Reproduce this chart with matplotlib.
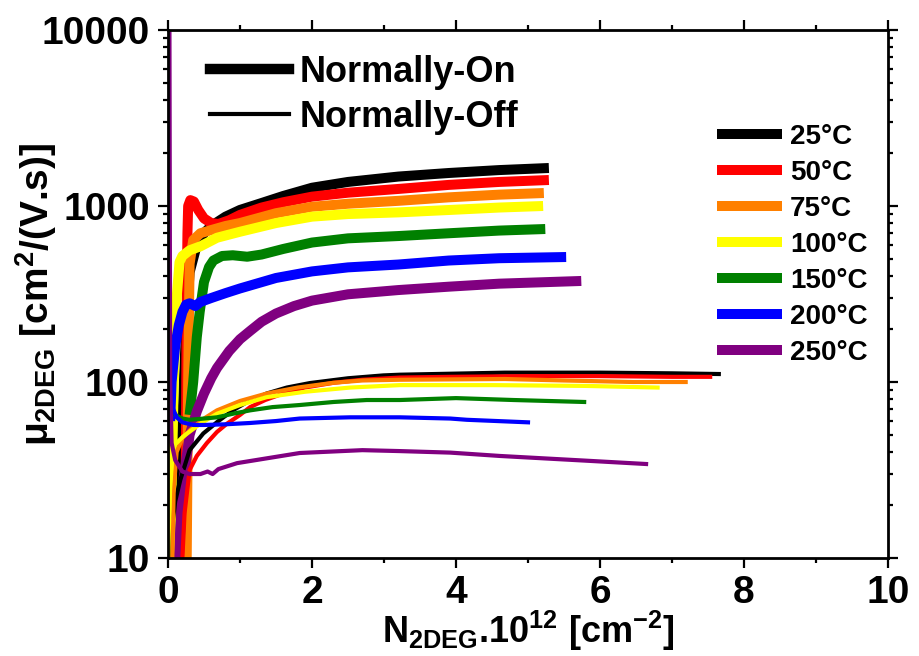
import matplotlib
matplotlib.use("Agg")
import matplotlib.pyplot as plt
from matplotlib.lines import Line2D
from matplotlib.ticker import FixedLocator, LogLocator, NullFormatter

plt.rcParams['font.family'] = ['Liberation Sans', 'DejaVu Sans']
plt.rcParams['font.weight'] = 'bold'
plt.rcParams['mathtext.fontset'] = 'custom'
plt.rcParams['mathtext.rm'] = 'Liberation Sans:bold'
plt.rcParams['mathtext.bf'] = 'Liberation Sans:bold'
plt.rcParams['mathtext.it'] = 'Liberation Sans:bold'
plt.rcParams['mathtext.sf'] = 'Liberation Sans:bold'

# ---------------- data ----------------
temps = ['25°C', '50°C', '75°C', '100°C', '150°C', '200°C', '250°C']
colors = ['#000000', '#ff0000', '#ff8000', '#ffff00', '#008000', '#0000ff', '#800080']

# Normally-On (thick)
on25_x = [0.15, 0.2, 0.25, 0.3, 0.4, 0.5, 0.6, 0.8, 1.0, 1.3, 1.6, 2.0, 2.5, 3.2, 3.9, 4.6, 5.29]
on25_y = [10, 60, 200, 420, 600, 700, 770, 870, 950, 1040, 1140, 1270, 1370, 1470, 1540, 1600, 1644]
on50_x = [0.24, 0.26, 0.27, 0.28, 0.31, 0.36, 0.42, 0.5, 0.6, 0.7, 0.85, 1.0, 1.3, 1.6, 2.0, 2.5, 3.2, 3.9, 4.6, 5.29]
on50_y = [10, 300, 700, 1000, 1080, 1060, 950, 850, 800, 790, 830, 890, 980, 1050, 1130, 1190, 1250, 1318, 1370, 1405]
on75_x = [0.26, 0.28, 0.3, 0.35, 0.45, 0.6, 0.8, 1.0, 1.5, 2.0, 2.5, 3.2, 3.9, 4.6, 5.22]
on75_y = [10, 100, 470, 640, 700, 730, 770, 800, 910, 990, 1030, 1070, 1120, 1160, 1185]
on100_x = [0.03, 0.08, 0.12, 0.16, 0.2, 0.3, 0.45, 0.68, 1.0, 1.5, 2.0, 2.5, 3.2, 3.9, 4.6, 5.21]
on100_y = [10, 100, 300, 480, 520, 560, 590, 660, 714, 800, 870, 900, 920, 949, 980, 1000]
on150_x = [0.3, 0.35, 0.4, 0.44, 0.5, 0.57, 0.63, 0.75, 0.9, 1.1, 1.3, 1.6, 2.0, 2.5, 3.2, 3.9, 4.6, 5.24]
on150_y = [65, 100, 180, 250, 370, 450, 490, 520, 525, 515, 530, 570, 620, 655, 675, 700, 725, 740]
on200_x = [0.03, 0.05, 0.1, 0.15, 0.2, 0.25, 0.3, 0.38, 0.45, 0.6, 0.8, 1.0, 1.5, 2.0, 2.5, 3.2, 3.9, 4.6, 5.53]
on200_y = [60, 100, 160, 210, 250, 275, 280, 270, 285, 300, 320, 340, 390, 425, 448, 465, 490, 505, 513]
on250_x = [0.15, 0.2, 0.3, 0.4, 0.5, 0.6, 0.68, 0.85, 1.0, 1.14, 1.3, 1.5, 1.75, 2.0, 2.5, 3.2, 3.9, 4.6, 5.74]
on250_y = [10, 25, 50, 68, 86, 105, 120, 150, 175, 195, 220, 245, 270, 290, 315, 333, 348, 362, 375]

# Normally-Off (thin)
off25_x = [0.03, 0.05, 0.1, 0.17, 0.3, 0.49, 0.7, 0.9, 1.1, 1.37, 1.65, 1.97, 2.5, 2.99, 3.22, 4.68, 6.0, 7.0, 7.65]
off25_y = [10, 14.5, 21, 27.7, 41, 51, 60, 69, 77, 86, 93, 98.6, 105, 109, 110, 113, 113, 112, 111]
off50_x = [0.2, 0.23, 0.3, 0.4, 0.54, 0.68, 0.82, 1.0, 1.14, 1.35, 1.6, 1.9, 2.3, 2.7, 3.22, 3.92, 5.0, 6.0, 7.0, 7.53]
off50_y = [10, 18, 31.6, 38, 45, 52, 58, 65, 72, 79, 86, 93, 99, 103, 106, 107, 108, 108, 107, 107]
off75_x = [0.06, 0.08, 0.12, 0.2, 0.3, 0.5, 0.68, 1.0, 1.37, 1.8, 2.3, 2.7, 3.22, 4.68, 5.5, 6.46, 7.19]
off75_y = [10, 25, 40, 48, 53, 62, 69, 78, 86, 93, 99, 102, 103, 104, 102, 100, 100]
off100_x = [0.0, 0.03, 0.07, 0.21, 0.45, 0.68, 1.0, 1.37, 1.9, 2.53, 3.22, 4.53, 5.8, 6.8]
off100_y = [10, 25, 43, 49, 58, 66, 74, 82, 88, 93, 96, 96, 95, 93]
off150_x = [0.02, 0.1, 0.2, 0.3, 0.5, 0.68, 0.9, 1.14, 1.45, 1.83, 2.3, 2.76, 3.22, 4.0, 4.8, 5.78]
off150_y = [75, 65, 62, 61, 62, 63, 66, 69, 72, 74, 77, 79, 79, 81, 79, 77]
off200_x = [0.01, 0.015, 0.02, 0.03, 0.06, 0.12, 0.2, 0.35, 0.5, 0.8, 1.14, 1.5, 1.83, 2.53, 3.22, 3.92, 4.15, 5.0]
off200_y = [1000, 300, 150, 90, 72, 63, 59, 57, 57, 57.5, 58.5, 60, 62, 63, 63, 62, 61, 59]
off250_x = [0.02, 0.025, 0.03, 0.05, 0.1, 0.2, 0.3, 0.45, 0.55, 0.62, 0.7, 0.96, 1.4, 1.83, 2.7, 3.22, 3.92, 4.61, 5.82, 6.64]
off250_y = [10000, 1000, 100, 45, 36, 31, 30, 30, 31, 30, 32, 34.6, 37, 39.5, 41, 40.5, 39.7, 38, 35.7, 34.2]

on_x = [on25_x, on50_x, on75_x, on100_x, on150_x, on200_x, on250_x]
on_y = [on25_y, on50_y, on75_y, on100_y, on150_y, on200_y, on250_y]
off_x = [off25_x, off50_x, off75_x, off100_x, off150_x, off200_x, off250_x]
off_y = [off25_y, off50_y, off75_y, off100_y, off150_y, off200_y, off250_y]

x_ticks = [0, 2, 4, 6, 8, 10]
y_ticks = [10, 100, 1000, 10000]
y_ticklabels = ['10', '100', '1000', '10000']

# ---------------- figure ----------------
W, H = 919, 656
fig = plt.figure(figsize=(W / 100, H / 100), dpi=100)
ax = fig.add_axes([168 / W, 1 - 558 / H, (888 - 168) / W, (558 - 30) / H])

on_handles = []
for xs, ys, c, t in zip(on_x, on_y, colors, temps):
    h, = ax.plot(xs, ys, color=c, lw=7.2, solid_joinstyle='round', solid_capstyle='butt', label=t)
    on_handles.append(h)
for xs, ys, c in zip(off_x, off_y, colors):
    ax.plot(xs, ys, color=c, lw=3.0, solid_joinstyle='round')

ax.set_yscale('log')
ax.set_xlim(0, 10)
ax.set_ylim(10, 10000)
ax.set_xticks(x_ticks)
ax.set_xticklabels([str(v) for v in x_ticks])
ax.xaxis.set_minor_locator(FixedLocator([1, 3, 5, 7, 9]))
ax.set_yticks(y_ticks)
ax.set_yticklabels(y_ticklabels)
ax.yaxis.set_minor_locator(LogLocator(base=10, subs=range(2, 10)))
ax.yaxis.set_minor_formatter(NullFormatter())

for s in ax.spines.values():
    s.set_linewidth(2.0)
ax.tick_params(which='both', direction='out', top=True, right=True, width=1.6)
ax.tick_params(which='major', length=7, labelsize=28)
ax.tick_params(which='minor', length=3.5)
ax.tick_params(axis='y', which='major', pad=6)
ax.tick_params(axis='x', which='major', pad=5)

ax.set_xlabel(r'N$_{2DEG}$.10$^{12}$ [cm$^{-2}$]', fontsize=26, fontweight='bold')
ax.set_ylabel(r'$\mu_{2DEG}$ [cm$^{2}$/(V.s)]', fontsize=28, fontweight='bold')
ax.xaxis.set_label_coords(0.5, -0.097)
ax.yaxis.set_label_coords(-0.152, 0.5)

h_on = Line2D([], [], color='black', lw=7.5)
h_off = Line2D([], [], color='black', lw=3.0)
leg1 = ax.legend([h_on, h_off], ['Normally-On', 'Normally-Off'], loc='upper left',
                 bbox_to_anchor=(210 / W, 1 - 55 / H), bbox_transform=fig.transFigure,
                 frameon=False, prop={'weight': 'bold', 'size': 26},
                 handlelength=2.2, handletextpad=0.27, labelspacing=0.27,
                 borderpad=0, borderaxespad=0)
ax.add_artist(leg1)
leg2 = ax.legend(on_handles, temps, loc='upper left',
                 bbox_to_anchor=(717 / W, 1 - 124 / H), bbox_transform=fig.transFigure,
                 frameon=False, prop={'weight': 'bold', 'size': 20},
                 handlelength=2.34, handletextpad=0.29, labelspacing=0.36,
                 borderpad=0, borderaxespad=0)

fig.savefig('out.png', dpi=100)
